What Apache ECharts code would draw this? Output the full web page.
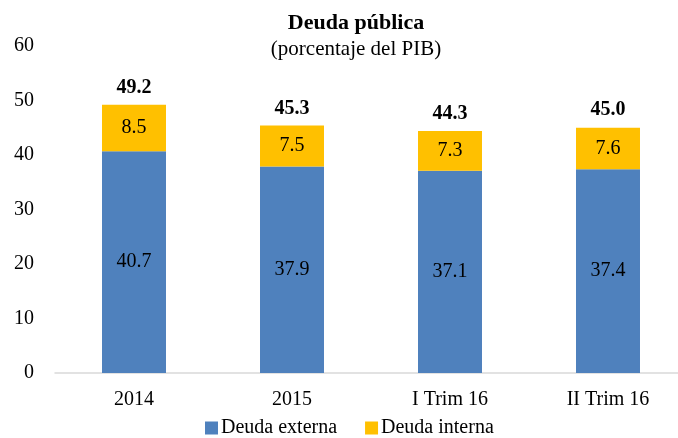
<!DOCTYPE html>
<html>
<head>
<meta charset="utf-8">
<script src="https://cdn.jsdelivr.net/npm/echarts@6/dist/echarts.min.js"></script>
<style>
  html, body { margin: 0; padding: 0; background: #fff; }
  #chart { width: 678px; height: 438px; }
</style>
</head>
<body>
<div id="chart"></div>
<script>
// categorías y valores (% del PIB)
const categories = ['2014', '2015', 'I Trim 16', 'II Trim 16'];
const deudaExterna = [40.7, 37.9, 37.1, 37.4];
const deudaInterna = [8.5, 7.5, 7.3, 7.6];
const totales = [49.2, 45.3, 44.3, 45.0];
const yTicks = [0, 10, 20, 30, 40, 50, 60];

const serif = '"Liberation Serif", "DejaVu Serif", serif';

const chart = echarts.init(document.getElementById('chart'));
chart.setOption({
  animation: false,
  textStyle: { fontFamily: serif },
  title: {
    text: 'Deuda pública',
    subtext: '(porcentaje del PIB)',
    left: 351,
    textAlign: 'center',
    top: 7,
    itemGap: 5,
    textStyle: { fontFamily: serif, fontSize: 22, fontWeight: 'bold', color: '#000' },
    subtextStyle: { fontFamily: serif, fontSize: 21, color: '#000' },
  },
  legend: {
    bottom: -5,
    left: 200,
    itemWidth: 13,
    itemHeight: 13,
    itemGap: 28,
    icon: 'rect',
    textStyle: { fontFamily: serif, fontSize: 20, color: '#000', padding: [0, 0, 0, -2] },
    data: ['Deuda externa', 'Deuda interna'],
  },
  grid: { left: 55, width: 632, top: 46, bottom: 65, containLabel: false, outerBoundsMode: 'none' },
  xAxis: {
    type: 'category',
    data: categories,
    axisLine: { lineStyle: { color: '#d9d9d9', width: 1.5 } },
    axisTick: { show: false },
    axisLabel: { fontFamily: serif, fontSize: 20, color: '#000', margin: 17 },
  },
  yAxis: {
    type: 'value',
    min: yTicks[0],
    max: yTicks[yTicks.length - 1],
    interval: 10,
    splitLine: { show: false },
    axisLine: { show: false },
    axisTick: { show: false },
    axisLabel: { fontFamily: serif, fontSize: 20, color: '#000', margin: 21 },
  },
  series: [
    {
      name: 'Deuda externa',
      type: 'bar',
      stack: 'deuda',
      barWidth: '40.5%',
      itemStyle: { color: '#4f81bd' },
      label: { show: true, position: 'inside', fontFamily: serif, fontSize: 20, color: '#000' },
      data: deudaExterna,
    },
    {
      name: 'Deuda interna',
      type: 'bar',
      stack: 'deuda',
      itemStyle: { color: '#ffc000' },
      label: { show: true, position: 'inside', fontFamily: serif, fontSize: 20, color: '#000',
        formatter: (p) => p.value.toFixed(1) },
      data: deudaInterna,
    },
    {
      // etiquetas de total sobre cada barra
      name: 'Total',
      type: 'line',
      symbol: 'circle',
      symbolSize: 1,
      showSymbol: true,
      itemStyle: { color: 'rgba(0,0,0,0)' },
      lineStyle: { opacity: 0 },
      label: { show: true, position: 'top', distance: 7, fontFamily: serif, fontSize: 20,
        fontWeight: 'bold', color: '#000', formatter: (p) => p.value.toFixed(1) },
      data: totales,
    },
  ],
});
</script>
</body>
</html>
